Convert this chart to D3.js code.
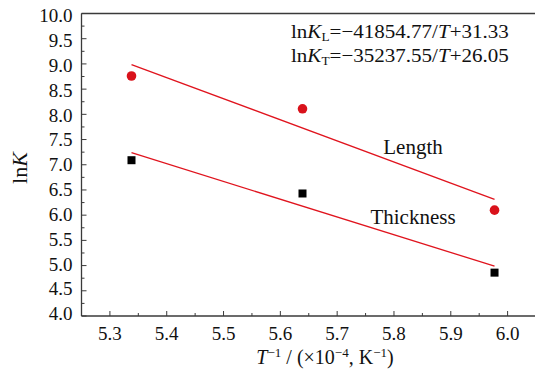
<!DOCTYPE html>
<html><head><meta charset="utf-8">
<script src="https://cdn.jsdelivr.net/npm/d3@7"></script>
<style>body{margin:0;background:#fff}text{font-family:"Liberation Serif","Times New Roman",serif}</style>
</head><body><svg id="c" width="535" height="376"></svg>
<script>
const invT = [5.338, 5.639, 5.977];
const lnKLength = [8.76, 8.11, 6.10];
const lnKThickness = [7.09, 6.43, 4.86];
const fitLength = {slope: -4.185477, intercept: 31.33};
const fitThickness = {slope: -3.523755, intercept: 26.05};
const xTicks = [5.3, 5.4, 5.5, 5.6, 5.7, 5.8, 5.9, 6.0];
const yTicks = [4.0, 4.5, 5.0, 5.5, 6.0, 6.5, 7.0, 7.5, 8.0, 8.5, 9.0, 9.5, 10.0];

const FF = "Liberation Serif";
const svg = d3.select("#c");
const L = 81.5, R = 536, T = 13.5, B = 316;
const x = d3.scaleLinear().domain([5.25, 6.05]).range([L, R]);
const y = d3.scaleLinear().domain([4, 10]).range([B, T]);
const axisColor = "#3a3a3a";
function txt(sel) { return sel.append("text").attr("font-family", FF).attr("fill", "#111"); }

svg.append("line").attr("x1", L).attr("x2", 535).attr("y1", B).attr("y2", B).attr("stroke", axisColor).attr("stroke-width", 1.3);
svg.append("line").attr("x1", L).attr("x2", L).attr("y1", T).attr("y2", B).attr("stroke", axisColor).attr("stroke-width", 1.3);
svg.append("line").attr("x1", L).attr("x2", 535).attr("y1", T).attr("y2", T).attr("stroke", axisColor).attr("stroke-width", 1.3);

const xMinor = d3.range(5.25, 6.051, 0.05).filter(v => !xTicks.some(t => Math.abs(t - v) < 1e-6));
xTicks.forEach(v => {
  svg.append("line").attr("x1", x(v)).attr("x2", x(v)).attr("y1", B).attr("y2", B - 5).attr("stroke", axisColor).attr("stroke-width", 1);
  txt(svg).attr("x", x(v)).attr("y", B + 24).attr("text-anchor", "middle").attr("font-size", 19).text(v.toFixed(1));
});
xMinor.forEach(v => {
  svg.append("line").attr("x1", x(v)).attr("x2", x(v)).attr("y1", B).attr("y2", B - 3).attr("stroke", axisColor).attr("stroke-width", 1);
});
const yMinor = d3.range(4.25, 10, 0.5);
yTicks.forEach(v => {
  svg.append("line").attr("x1", L).attr("x2", L + 5).attr("y1", y(v)).attr("y2", y(v)).attr("stroke", axisColor).attr("stroke-width", 1);
  txt(svg).attr("x", L - 9).attr("y", y(v) + 6.4 - 2.2 + (v - 4) / 6 * 4.5).attr("text-anchor", "end").attr("font-size", 19).text(v.toFixed(1));
});
yMinor.forEach(v => {
  svg.append("line").attr("x1", L).attr("x2", L + 3).attr("y1", y(v)).attr("y2", y(v)).attr("stroke", axisColor).attr("stroke-width", 1);
});

const yl = txt(svg).attr("transform", "translate(26.5,168) rotate(-90)").attr("text-anchor", "middle").attr("font-size", 22);
yl.append("tspan").text("ln");
yl.append("tspan").attr("font-style", "italic").text("K");

const xl = txt(svg).attr("x", 325).attr("y", 364).attr("text-anchor", "middle").attr("font-size", 20);
xl.append("tspan").attr("font-style", "italic").text("T");
xl.append("tspan").attr("font-size", 13).attr("dy", -7).text("−1");
xl.append("tspan").attr("dy", 7).text(" / (×10");
xl.append("tspan").attr("font-size", 13).attr("dy", -7).text("−4");
xl.append("tspan").attr("dy", 7).text(", K");
xl.append("tspan").attr("font-size", 13).attr("dy", -7).text("−1");
xl.append("tspan").attr("dy", 7).text(")");

const red = "#e0141e";
[fitLength, fitThickness].forEach(f => {
  const x0 = invT[0], x1 = invT[invT.length - 1];
  svg.append("line").attr("x1", x(x0)).attr("x2", x(x1))
    .attr("y1", y(f.slope * x0 + f.intercept)).attr("y2", y(f.slope * x1 + f.intercept))
    .attr("stroke", red).attr("stroke-width", 1.3);
});

svg.selectAll("circle.l").data(invT).enter().append("circle")
  .attr("cx", d => x(d)).attr("cy", (d, i) => y(lnKLength[i])).attr("r", 4.8).attr("fill", "#d9121b");
svg.selectAll("rect.t").data(invT).enter().append("rect")
  .attr("x", d => x(d) - 4).attr("y", (d, i) => y(lnKThickness[i]) - 4).attr("width", 8).attr("height", 8).attr("fill", "#000");

txt(svg).attr("x", 413).attr("y", 154).attr("text-anchor", "middle").attr("font-size", 21).text("Length");
txt(svg).attr("x", 413).attr("y", 224).attr("text-anchor", "middle").attr("font-size", 21).text("Thickness");

function eq(yy, sub, rest1, rest2) {
  const g = svg.append("g");
  const t = txt(g).attr("x", 0).attr("y", 0).attr("font-size", 19);
  t.append("tspan").text("ln");
  t.append("tspan").attr("font-style", "italic").text("K");
  t.append("tspan").attr("font-size", 12).attr("dy", 3).text(sub);
  t.append("tspan").attr("dy", -3).text(rest1);
  t.append("tspan").attr("font-style", "italic").text("T");
  t.append("tspan").text(rest2);
  const w = t.node().getComputedTextLength();
  const sx = 218 / w;
  g.attr("transform", `translate(291,${yy}) scale(${sx},1)`);
}
eq(38, "L", "=−41854.77/", "+31.33");
eq(62, "T", "=−35237.55/", "+26.05");
</script></body></html>
